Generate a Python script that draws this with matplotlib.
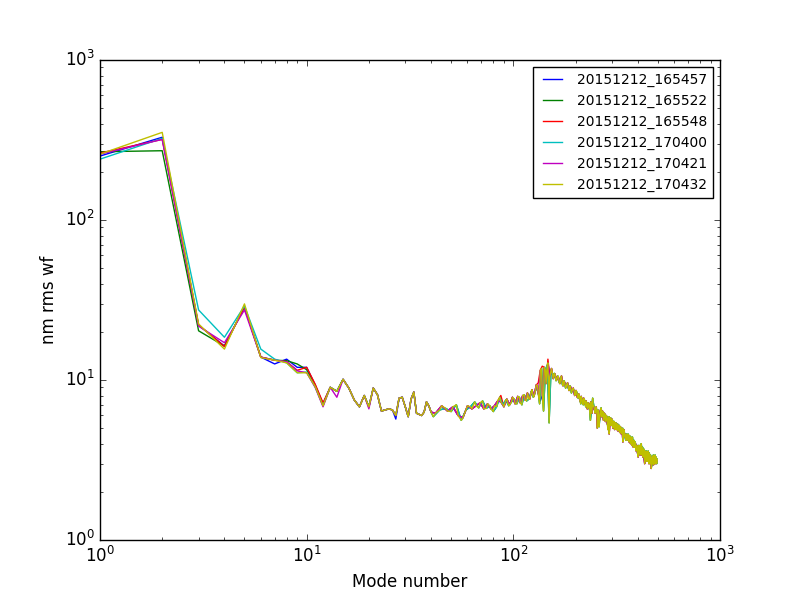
import matplotlib
matplotlib.use('Agg')
import matplotlib.pyplot as plt
import numpy as np

plt.style.use('classic')

labels = ['20151212_165457', '20151212_165522', '20151212_165548',
          '20151212_170400', '20151212_170421', '20151212_170432']
colors = ['b', 'g', 'r', 'c', 'm', 'y']

# modes 1..12 differ from run to run
head = {
    '20151212_165457': [251, 329, 22.0, 16.3, 28.7, 13.9, 12.6, 13.5, 12.0, 12.0, 9.3, 7.1],
    '20151212_165522': [267, 271, 20.3, 16.3, 28.7, 13.9, 13.3, 13.2, 12.6, 11.6, 9.2, 7.0],
    '20151212_165548': [262, 319, 22.1, 16.2, 28.5, 13.9, 13.3, 13.0, 11.5, 12.0, 9.4, 7.2],
    '20151212_170400': [240, 324, 27.4, 18.5, 29.0, 15.6, 13.5, 12.8, 11.1, 11.2, 9.0, 6.9],
    '20151212_170421': [258, 319, 21.7, 17.1, 27.4, 13.9, 13.3, 13.0, 11.4, 11.1, 9.0, 6.8],
    '20151212_170432': [258, 353, 22.4, 15.6, 29.9, 13.8, 13.3, 12.8, 11.1, 11.1, 9.1, 6.9],
}

# modes 13..40 (one per mode), nearly identical for all runs
mid_vals = [9.0, 8.5, 10.1, 8.9, 7.5, 6.8, 8.0, 6.8, 8.9, 8.1,
            6.4, 6.5, 6.6, 6.5, 6.0, 7.7, 7.8, 6.8, 5.9, 7.6,
            8.4, 6.2, 6.1, 6.0, 6.3, 7.3, 6.9, 6.3]

# tail A: modes 41, 44, ..., 497
tail_a = [5.9, 6.5, 6.65, 6.35, 7.0, 5.6, 6.5, 6.8, 7.3, 6.7,
          7.4, 6.65, 6.9, 6.35, 6.8, 7.8, 7.0, 7.5, 6.9, 7.3,
          7.6, 7.1, 7.8, 7.0, 8.1, 7.4, 7.6, 8.45, 7.8, 8.6,
          9.2, 7.1, 11.8, 6.4, 11.6, 12.4, 5.4, 11.3, 10.8, 11.0,
          9.9, 10.6, 9.6, 10.4, 9.3, 9.9, 8.9, 9.5, 8.8, 9.2,
          8.3, 8.8, 8.5, 8.1, 8.4, 7.7, 7.9, 7.1, 7.6, 7.0,
          7.5, 6.8, 7.2, 6.7, 7.0, 5.6, 6.6, 7.7, 6.9, 6.4,
          6.7, 6.1, 6.5, 5.1, 6.2, 6.7, 5.9, 6.3, 5.8, 6.1,
          5.7, 5.9, 4.9, 5.9, 5.4, 5.8, 5.3, 5.6, 5.1, 5.5,
          5.0, 5.4, 5.1, 5.3, 4.9, 5.2, 4.8, 5.0, 4.7, 5.0,
          4.6, 4.8, 4.4, 4.2, 4.6, 4.3, 4.6, 4.2, 4.5, 4.1,
          4.4, 4.0, 4.4, 4.0, 4.2, 3.8, 4.1, 3.7, 3.9, 3.6,
          3.4, 3.9, 3.6, 3.9, 3.5, 4.0, 3.6, 3.8, 3.4, 3.7,
          3.2, 3.6, 3.3, 3.6, 3.2, 3.5, 3.6, 3.2, 3.5, 3.1,
          3.4, 3.0, 2.9, 3.3, 3.1, 3.4, 3.0, 3.3, 3.4, 3.1,
          3.3, 3.0, 3.2]

# tail B: modes 42, 45, ..., 495
tail_b = [6.2, 6.9, 6.4, 6.8, 6.0, 5.8, 6.9, 6.6, 6.9, 7.2,
          6.6, 7.1, 6.6, 6.9, 7.4, 7.3, 6.8, 7.6, 7.0, 7.8,
          7.1, 7.9, 7.2, 8.0, 7.5, 8.3, 7.6, 8.7, 7.9, 9.3,
          8.2, 11.5, 8.0, 12.0, 9.5, 12.8, 10.5, 11.8, 10.2, 10.9,
          10.0, 10.5, 9.5, 10.6, 9.2, 9.7, 9.0, 9.6, 8.6, 9.1,
          8.5, 8.9, 8.0, 8.6, 7.8, 8.2, 7.4, 7.9, 7.3, 7.7,
          7.1, 7.4, 6.6, 7.2, 6.5, 7.3, 6.2, 6.9, 6.7, 6.2,
          6.8, 5.0, 6.4, 5.6, 6.5, 5.9, 6.4, 5.6, 6.2, 5.5,
          6.0, 5.3, 5.7, 4.6, 5.8, 5.2, 5.7, 5.0, 5.5, 4.9,
          5.4, 4.9, 5.3, 4.8, 5.2, 4.7, 5.1, 4.6, 4.9, 4.1,
          4.9, 4.4, 4.6, 4.3, 4.5, 4.2, 4.5, 4.1, 4.4, 4.0,
          4.3, 3.9, 4.2, 3.8, 4.1, 3.8, 4.0, 3.6, 3.9, 3.5,
          3.3, 3.5, 3.8, 3.4, 3.7, 3.4, 3.7, 3.3, 3.6, 3.3,
          3.0, 3.2, 3.5, 3.1, 3.4, 3.1, 3.4, 3.0, 3.3, 3.0,
          3.3, 2.8, 3.2, 3.0, 3.2, 2.95, 3.2, 3.0, 3.2, 3.0,
          3.2, 3.1]

# which tail(s) each run follows
tail_use = {
    '20151212_165457': 'b',
    '20151212_165522': 'a',
    '20151212_165548': 'b',
    '20151212_170400': 'a',
    '20151212_170421': 'b',
    '20151212_170432': 'ab',
}

# a few spots where single runs stick out
overrides = {
    '20151212_165457': {27: 5.7, 135: 7.4},
    '20151212_165548': {87: 8.0, 138: 12.2, 147: 13.5, 132: 9.6},
    '20151212_170421': {14: 7.8, 20: 6.6},
}

head_modes = np.arange(1, 41)
modes_a = np.arange(41, 498, 3)
modes_b = np.arange(42, 496, 3)

plt.figure(figsize=(8, 6), dpi=100)
for lab, col in zip(labels, colors):
    xs = [head_modes]
    ys = [np.array(head[lab] + mid_vals, dtype=float)]
    if 'a' in tail_use[lab]:
        xs.append(modes_a)
        ys.append(np.array(tail_a, dtype=float))
    if 'b' in tail_use[lab]:
        xs.append(modes_b)
        ys.append(np.array(tail_b, dtype=float))
    x = np.concatenate(xs)
    y = np.concatenate(ys)
    order = np.argsort(x)
    x, y = x[order], y[order]
    for m, v in overrides.get(lab, {}).items():
        y[x == m] = v
    plt.plot(x, y, color=col, label=lab)

plt.xscale('log')
plt.yscale('log')
plt.xlim(1, 1000)
plt.ylim(1, 1000)
plt.xlabel('Mode number')
plt.ylabel('nm rms wf')
plt.legend(loc='upper right', fontsize=10)

plt.savefig('out.png', dpi=100)
